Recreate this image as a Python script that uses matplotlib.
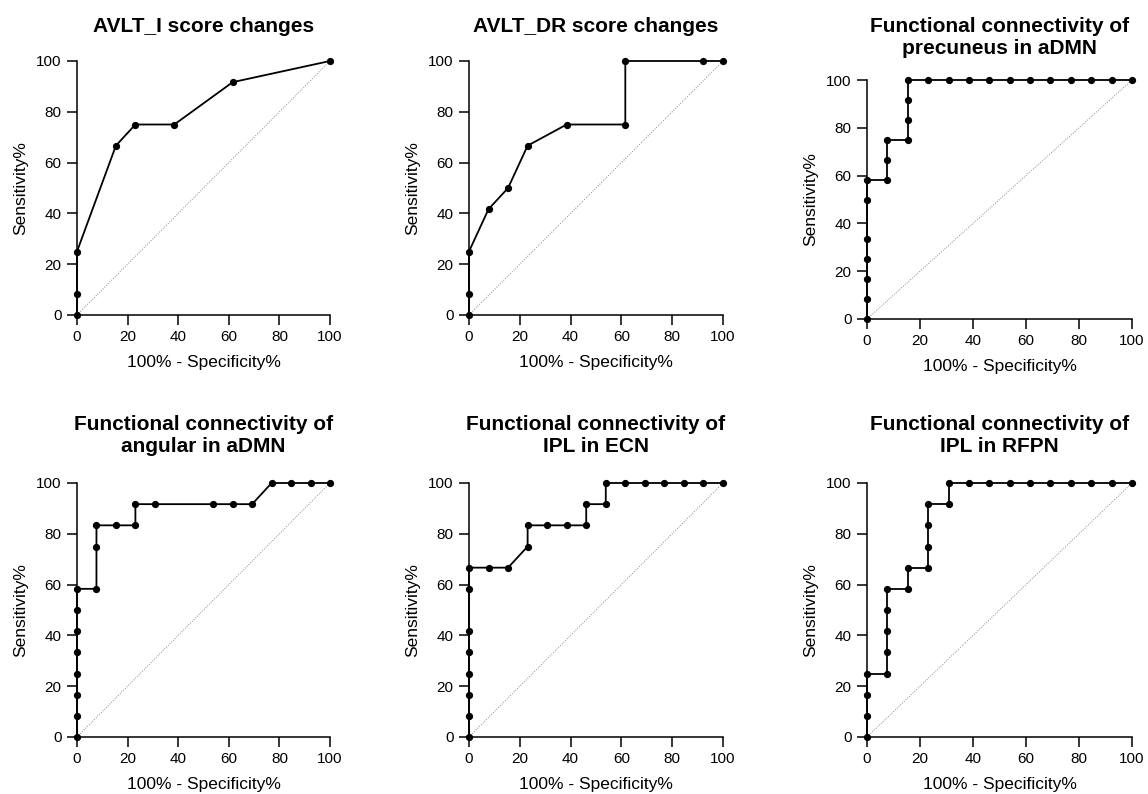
import matplotlib
matplotlib.use("Agg")
import matplotlib.pyplot as plt

plt.rcParams['font.family'] = ['Liberation Sans', 'DejaVu Sans']

titles = [
    ["AVLT_I score changes"],
    ["AVLT_DR score changes"],
    ["Functional connectivity of", "precuneus in aDMN"],
    ["Functional connectivity of", "angular in aDMN"],
    ["Functional connectivity of", "IPL in ECN"],
    ["Functional connectivity of", "IPL in RFPN"],
]

# 100% - Specificity% (x) and Sensitivity% (y) for each panel
avlt_i_x = [0, 0, 0, 15.38, 23.08, 38.46, 61.54, 100]
avlt_i_y = [0, 8.33, 25, 66.67, 75, 75, 91.67, 100]

avlt_dr_x = [0, 0, 0, 7.69, 15.38, 23.08, 38.46, 61.54, 61.54, 92.31, 100]
avlt_dr_y = [0, 8.33, 25, 41.67, 50, 66.67, 75, 75, 100, 100, 100]

precuneus_x = [0, 0, 0, 0, 0, 0, 0, 7.69, 7.69, 7.69, 15.38, 15.38, 15.38, 15.38,
               23.08, 30.77, 38.46, 46.15, 53.85, 61.54, 69.23, 76.92, 84.62, 92.31, 100]
precuneus_y = [0, 8.33, 16.67, 25, 33.33, 50, 58.33, 58.33, 66.67, 75, 75, 83.33, 91.67, 100,
               100, 100, 100, 100, 100, 100, 100, 100, 100, 100, 100]

angular_x = [0, 0, 0, 0, 0, 0, 0, 0, 7.69, 7.69, 7.69, 15.38, 23.08, 23.08, 30.77,
             53.85, 61.54, 69.23, 76.92, 84.62, 92.31, 100]
angular_y = [0, 8.33, 16.67, 25, 33.33, 41.67, 50, 58.33, 58.33, 75, 83.33, 83.33, 83.33,
             91.67, 91.67, 91.67, 91.67, 91.67, 100, 100, 100, 100]

ecn_x = [0, 0, 0, 0, 0, 0, 0, 0, 7.69, 15.38, 23.08, 23.08, 30.77, 38.46, 46.15, 46.15,
         53.85, 53.85, 61.54, 69.23, 76.92, 84.62, 92.31, 100]
ecn_y = [0, 8.33, 16.67, 25, 33.33, 41.67, 58.33, 66.67, 66.67, 66.67, 75, 83.33, 83.33,
         83.33, 83.33, 91.67, 91.67, 100, 100, 100, 100, 100, 100, 100]

rfpn_x = [0, 0, 0, 0, 7.69, 7.69, 7.69, 7.69, 7.69, 15.38, 15.38, 23.08, 23.08, 23.08, 23.08,
          30.77, 30.77, 38.46, 46.15, 53.85, 61.54, 69.23, 76.92, 84.62, 92.31, 100]
rfpn_y = [0, 8.33, 16.67, 25, 25, 33.33, 41.67, 50, 58.33, 58.33, 66.67, 66.67, 75, 83.33,
          91.67, 91.67, 100, 100, 100, 100, 100, 100, 100, 100, 100, 100]

xs = [avlt_i_x, avlt_dr_x, precuneus_x, angular_x, ecn_x, rfpn_x]
ys = [avlt_i_y, avlt_dr_y, precuneus_y, angular_y, ecn_y, rfpn_y]

ticks = [0, 20, 40, 60, 80, 100]

W, H = 1148, 794
fig = plt.figure(figsize=(W / 100, H / 100), dpi=100)

# pixel boxes: (x0, x100, y100, y0)
boxes = [
    (77, 330, 61, 315),
    (469, 723, 61, 315),
    (867, 1132, 80, 319),
    (77, 330, 483, 737),
    (469, 723, 483, 737),
    (867, 1132, 483, 737),
]
# title baselines (pixels from top)
title_base = [32, 32, 32, 430, 430, 430]
line_gap = 21.5

for i, (bx0, bx1, by1, by0) in enumerate(boxes):
    ax = fig.add_axes([bx0 / W, 1 - by0 / H, (bx1 - bx0) / W, (by0 - by1) / H])
    ax.plot([0, 100], [0, 100], linestyle=(0, (1, 1.5)), color='#8a8a8a', lw=0.7, zorder=1)
    ax.plot(xs[i], ys[i], color='black', lw=1.3, marker='o', markersize=4.2,
            clip_on=False, zorder=3)
    ax.set_xlim(0, 100)
    ax.set_ylim(0, 100)
    ax.set_xticks(ticks)
    ax.set_yticks(ticks)
    ax.spines['top'].set_visible(False)
    ax.spines['right'].set_visible(False)
    for s in ('left', 'bottom'):
        ax.spines[s].set_linewidth(1.1)
    ax.tick_params(direction='out', length=7, width=1.1, labelsize=11, pad=4)
    ax.set_xlabel("100% - Specificity%", fontsize=12.5, labelpad=8)
    ax.set_ylabel("Sensitivity%", fontsize=12.5, labelpad=6)
    cx = (bx0 + bx1) / 2 / W
    for k, line in enumerate(titles[i]):
        fig.text(cx, 1 - (title_base[i] + k * line_gap) / H, line, ha='center',
                 va='baseline', fontsize=15, fontweight='bold')

fig.savefig("out.png", dpi=100)
